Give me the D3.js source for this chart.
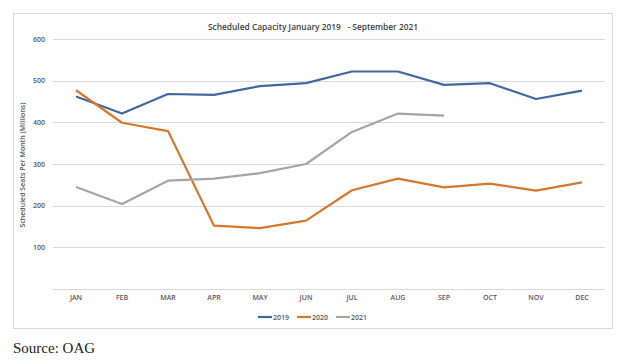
<!DOCTYPE html>
<html>
<head>
<meta charset="utf-8">
<script src="https://cdn.jsdelivr.net/npm/d3@7"></script>
<style>
  html, body { margin: 0; padding: 0; background: #fff; }
  svg { display: block; }
  .tick text { fill: #595959; }
</style>
</head>
<body>
<svg id="chart" width="625" height="361"></svg>
<script>
const months = ["JAN", "FEB", "MAR", "APR", "MAY", "JUN", "JUL", "AUG", "SEP", "OCT", "NOV", "DEC"];
const y2019 = [462, 421, 468, 466, 487, 494, 522, 522, 490, 494, 456, 476];
const y2020 = [477, 399, 379, 152, 146, 164, 237, 265, 244, 253, 236, 256];
const y2021 = [245, 204, 260, 265, 278, 300, 377, 421, 416];
const yTicks = [100, 200, 300, 400, 500, 600];

const series = [
  { name: "2019", values: y2019, color: "#41689e" },
  { name: "2020", values: y2020, color: "#d4782f" },
  { name: "2021", values: y2021, color: "#a5a5a5" },
];

const svg = d3.select("#chart");
const fontUi = "'Open Sans', 'Noto Sans', sans-serif";

// chart frame
svg.append("rect")
  .attr("x", 13.5).attr("y", 13.5)
  .attr("width", 599).attr("height", 315)
  .attr("fill", "#fff")
  .attr("stroke", "#d9d9d9");

const x = d3.scaleBand().domain(months).range([53, 605]);
const y = d3.scaleLinear().domain([0, 600]).range([289, 39]);

// gridlines
svg.append("g")
  .selectAll("line")
  .data([0, ...yTicks])
  .join("line")
  .attr("x1", 53).attr("x2", 605)
  .attr("y1", d => Math.round(y(d)) + 0.5)
  .attr("y2", d => Math.round(y(d)) + 0.5)
  .attr("stroke", "#d9d9d9");

// y axis labels
const yAxis = svg.append("g")
  .attr("transform", "translate(45,0)")
  .call(d3.axisLeft(y).tickValues(yTicks).tickSize(0).tickPadding(0));
yAxis.select(".domain").remove();
yAxis.selectAll("text")
  .style("font-family", fontUi).style("font-size", "7px").style("font-weight", 600);

// x axis labels
const xAxis = svg.append("g")
  .attr("transform", "translate(0,295)")
  .call(d3.axisBottom(x).tickSize(0).tickPadding(0));
xAxis.select(".domain").remove();
xAxis.selectAll("text")
  .style("font-family", fontUi).style("font-size", "7px").style("font-weight", 600);

// lines
const line = d3.line()
  .x((d, i) => x(months[i]) + x.bandwidth() / 2)
  .y(d => y(d));

svg.append("g")
  .selectAll("path")
  .data(series)
  .join("path")
  .attr("d", d => line(d.values))
  .attr("fill", "none")
  .attr("stroke", d => d.color)
  .attr("stroke-width", 2.2)
  .attr("stroke-linejoin", "round");

// title
svg.append("text")
  .attr("x", 313).attr("y", 30)
  .attr("text-anchor", "middle")
  .style("font-family", fontUi).style("font-size", "8.4px")
  .style("font-weight", 600)
  .style("fill", "#404040")
  .style("white-space", "pre")
  .text("Scheduled Capacity January 2019   - September 2021");

// y title
svg.append("text")
  .attr("transform", "translate(25,165) rotate(-90)")
  .attr("text-anchor", "middle")
  .style("font-family", fontUi).style("font-size", "7px")
  .style("font-weight", 600)
  .style("fill", "#595959")
  .text("Scheduled Seats Per Month (Millions)");

// legend
const legendX = [258, 297, 336];
const legend = svg.append("g")
  .selectAll("g")
  .data(series)
  .join("g")
  .attr("transform", (d, i) => `translate(${legendX[i]},317)`);
legend.append("line")
  .attr("x1", 0).attr("x2", 14)
  .attr("stroke", d => d.color)
  .attr("stroke-width", 2.2);
legend.append("text")
  .attr("x", 15).attr("y", 2.5)
  .style("font-family", fontUi).style("font-size", "7px")
  .style("font-weight", 600)
  .style("fill", "#595959")
  .text(d => d.name);

// source
svg.append("text")
  .attr("x", 13).attr("y", 353)
  .style("font-family", "'Liberation Serif', 'DejaVu Serif', serif")
  .style("font-size", "15px")
  .style("fill", "#222")
  .text("Source: OAG");
</script>
</body>
</html>
